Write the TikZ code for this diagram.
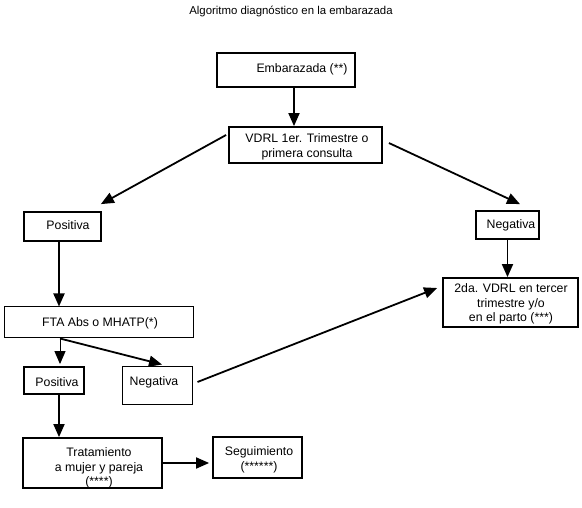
\documentclass[tikz,border=0pt]{standalone}
\usepackage{fontspec}
\setmainfont{Liberation Sans}
\usetikzlibrary{arrows.meta}
\begin{document}
\begin{tikzpicture}[x=1pt,y=-1pt,
  txt/.style={font=\fontsize{12.3}{14.5}\selectfont, align=center, inner sep=0pt},
  boxthick/.style={draw, line width=1.8pt, inner sep=0pt},
  boxthin/.style={draw, line width=1pt, inner sep=0pt},
  arr/.style={line width=1.8pt, -{Triangle[length=13pt,width=11pt]}},
  arrthin/.style={line width=1pt, -{Triangle[length=13pt,width=11pt]}}
]
\path[fill=white, use as bounding box] (0,0) rectangle (582,508);

% title
\node[txt, font=\fontsize{11.4}{14}\selectfont] (title) at (291,11) {Algoritmo diagnóstico en la embarazada};

% boxes
\node[boxthick, minimum width=138pt, minimum height=34pt] (emb) at (286,70) {};
\node[boxthick, minimum width=153pt, minimum height=36pt] (vdrl) at (305.5,145) {};
\node[boxthick, minimum width=77pt, minimum height=29pt] (pos1) at (62.5,226.5) {};
\node[boxthick, minimum width=63pt, minimum height=28pt] (neg1) at (507.5,225) {};
\node[boxthin, minimum width=189pt, minimum height=31pt] (fta) at (98.5,322.5) {};
\node[boxthick, minimum width=135pt, minimum height=49pt] (vdrl2) at (510.5,302.5) {};
\node[boxthick, minimum width=60pt, minimum height=27pt] (pos2) at (54,380.5) {};
\node[boxthin, minimum width=70pt, minimum height=37pt] (neg2) at (157,385.5) {};
\node[boxthick, minimum width=139pt, minimum height=50pt] (trat) at (92.5,463) {};
\node[boxthick, minimum width=89pt, minimum height=41pt] (seg) at (257.5,457.5) {};

% texts
\node[txt] (embt) at (302,69) {Embarazada (**)};
\node[txt] (vdrlt) at (307,147) {VDRL 1er. Trimestre o\\primera consulta};
\node[txt] (pos1t) at (68,225) {Positiva};
\node[txt] (neg1t) at (511,225) {Negativa};
\node[txt] (ftat) at (100,323) {FTA Abs o MHATP(*)};
\node[txt] (vdrl2t) at (511,304) {2da. VDRL en tercer\\trimestre y/o\\en el parto (***)};
\node[txt] (pos2t) at (57,382) {Positiva};
\node[txt] (neg2t) at (154,382) {Negativa};
\node[txt] (tratt) at (99,468) {Tratamiento\\a mujer y pareja\\(****)};
\node[txt] (segt) at (259,460) {Seguimiento\\(******)};

% connectors
\draw[arr] ([xshift=8pt]emb.south) -- ([xshift=-11.5pt]vdrl.north);
\draw[arr] ([xshift=-2pt,yshift=10pt]vdrl.west) -- ([xshift=-1pt,yshift=7pt]pos1.north east);
\draw[arr] ([xshift=6pt,yshift=2pt]vdrl.east) -- ([xshift=12.5pt,yshift=6pt]neg1.north);
\draw[arr] ([xshift=-3.5pt]pos1.south) -- ([xshift=-3.5pt]pos1.south |- fta.north);
\draw[arrthin] ([xshift=-38.5pt]fta.south) -- ([xshift=-38.5pt,yshift=2pt]fta.south |- pos2.north);
\draw[arr] ([xshift=-38.5pt]fta.south) -- ([xshift=5pt,yshift=2pt]neg2.north);
\draw[arr] ([xshift=5pt,yshift=3.5pt]neg2.east) -- ([xshift=-5pt,yshift=14.5pt]vdrl2.west);
\draw[arr] (neg1.south) -- (neg1.south |- vdrl2.north);
\draw[arr] ([xshift=5pt]pos2.south) -- ([xshift=5pt]pos2.south |- trat.north);
\draw[arr, shorten >=3pt] (trat.east) -- (trat.east -| seg.west);
\end{tikzpicture}
\end{document}
